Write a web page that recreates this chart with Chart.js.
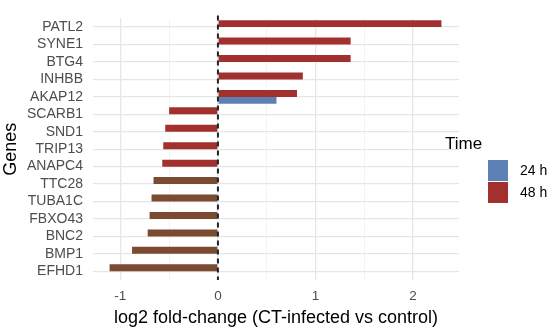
<!DOCTYPE html>
<html>
<head>
<meta charset="utf-8">
<script src="https://cdn.jsdelivr.net/npm/chart.js@4"></script>
<style>
  html, body { margin: 0; padding: 0; background: #fff; }
  #wrap { position: relative; width: 550px; height: 332px; }
  #legend { position: absolute; left: 445px; top: 134px; font-family: "Liberation Sans", Arial, sans-serif; color: #000; }
  #legend .title { font-size: 17px; margin-bottom: 5px; }
  #legend .row { display: flex; align-items: center; height: 22px; margin-left: 43px; font-size: 14px; }
  #legend .key { width: 20px; height: 21px; margin-right: 12px; }
</style>
</head>
<body>
<div id="wrap">
  <canvas id="chart" width="550" height="332"></canvas>
  <div id="legend"></div>
</div>
<script>
// ---- data ----
const genes = ["PATL2", "SYNE1", "BTG4", "INHBB", "AKAP12", "SCARB1", "SND1", "TRIP13",
  "ANAPC4", "TTC28", "TUBA1C", "FBXO43", "BNC2", "BMP1", "EFHD1"];
const fc48h = [2.29, 1.36, 1.36, 0.87, 0.81, -0.50, -0.54, -0.56,
  -0.57, -0.66, -0.68, -0.70, -0.72, -0.88, -1.11];
const fc24h = [null, null, null, null, 0.60, null, null, null,
  null, null, null, null, null, null, null];
const xTicks = [-1, 0, 1, 2];

const BLUE = "#5D81B4";
const RED = "#A2302E";
const BROWN = "#7A4A31";

// lower bars look brownish in the reference
const colors48 = genes.map((g, i) => (i >= 9 ? BROWN : RED));

// dashed zero line drawn over bars
const zeroLine = {
  id: "zeroLine",
  afterDatasetsDraw(chart) {
    const { ctx, chartArea, scales } = chart;
    const x = scales.x.getPixelForValue(0);
    ctx.save();
    ctx.strokeStyle = "#222";
    ctx.lineWidth = 2;
    ctx.setLineDash([5, 4]);
    ctx.beginPath();
    ctx.moveTo(x, chartArea.top - 3);
    ctx.lineTo(x, chartArea.bottom);
    ctx.stroke();
    ctx.restore();
  },
};

const chart = new Chart(document.getElementById("chart"), {
  type: "bar",
  data: {
    labels: genes,
    datasets: [
      { label: "48 h", data: fc48h, backgroundColor: colors48, legendColor: RED },
      { label: "24 h", data: fc24h, backgroundColor: BLUE, legendColor: BLUE },
    ],
  },
  options: {
    indexAxis: "y",
    responsive: false,
    animation: false,
    categoryPercentage: 0.8,
    barPercentage: 1.0,
    layout: { padding: { top: 8, right: 91, left: 0, bottom: 0 } },
    scales: {
      x: {
        type: "linear",
        min: -1.28,
        max: 2.47,
        border: { display: false },
        afterBuildTicks(scale) {
          scale.ticks = [-1, -0.5, 0, 0.5, 1, 1.5, 2].map((v) => ({ value: v }));
        },
        afterFit(scale) { scale.height = 52; },
        grid: {
          drawTicks: false,
          color: (c) => (Number.isInteger(c.tick.value) ? "#e6e6e6" : "#f0f0f0"),
          lineWidth: (c) => (Number.isInteger(c.tick.value) ? 1.3 : 0.8),
        },
        ticks: {
          autoSkip: false,
          maxRotation: 0,
          padding: 8,
          color: "#4d4d4d",
          font: { family: "Liberation Sans", size: 13.5 },
          callback: (v) => (xTicks.includes(v) ? String(v) : ""),
        },
        title: {
          display: true,
          text: "log2 fold-change (CT-infected vs control)",
          color: "#000",
          font: { family: "Liberation Sans", size: 18 },
          padding: { top: 0, bottom: 3 },
        },
      },
      y: {
        border: { display: false },
        afterFit(scale) { scale.width = 93; },
        grid: { offset: false, drawTicks: false, color: "#e6e6e6", lineWidth: 1.3 },
        ticks: {
          autoSkip: false,
          padding: 10,
          color: "#4d4d4d",
          font: { family: "Liberation Sans", size: 14 },
        },
        title: {
          display: true,
          text: "Genes",
          color: "#000",
          font: { family: "Liberation Sans", size: 18 },
          padding: { top: 0, bottom: 0 },
        },
      },
    },
    plugins: {
      legend: { display: false },
      tooltip: { enabled: false },
    },
  },
  plugins: [zeroLine],
});

// ---- legend (24 h first) ----
const legend = document.getElementById("legend");
legend.innerHTML =
  '<div class="title">Time</div>' +
  chart.data.datasets
    .slice()
    .reverse()
    .map((d) => `<div class="row"><div class="key" style="background:${d.legendColor}"></div>${d.label}</div>`)
    .join("");
</script>
</body>
</html>
